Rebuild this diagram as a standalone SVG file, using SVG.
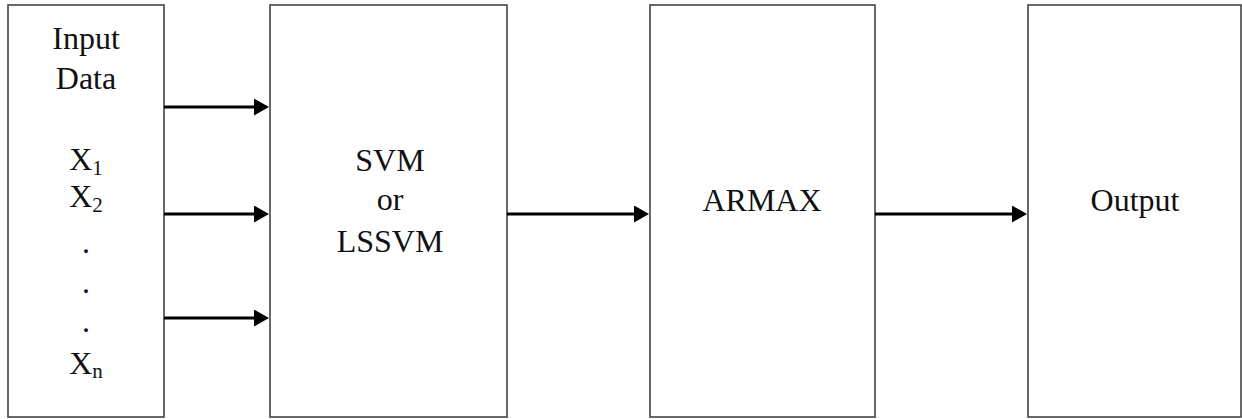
<svg xmlns="http://www.w3.org/2000/svg" width="1242" height="419" viewBox="0 0 1242 419">
  <style>
    .box { fill: #ffffff; stroke: #444444; stroke-width: 1.6; }
    text { font-family: 'Liberation Serif', 'DejaVu Serif', serif; font-size: 32px; fill: #111111; text-anchor: middle; }
    .sub { font-size: 21px; }
    .wire { stroke: #000000; stroke-width: 3; fill: none; }
  </style>
  <defs>
    <marker id="head" markerUnits="userSpaceOnUse" markerWidth="16" markerHeight="17" refX="5" refY="8.5" orient="auto">
      <path d="M0,0 L15,8.5 L0,17 Z" fill="#000000"/>
    </marker>
  </defs>

  <rect width="1242" height="419" fill="#ffffff"/>

  <!-- input block -->
  <g id="input">
    <rect class="box" x="8" y="5" width="156" height="412"/>
    <text x="86" y="49">Input</text>
    <text x="86" y="89">Data</text>
    <text x="86" y="170">X<tspan class="sub" dy="5">1</tspan></text>
    <text x="86" y="207">X<tspan class="sub" dy="5">2</tspan></text>
    <text x="86" y="253">.</text>
    <text x="86" y="293">.</text>
    <text x="86" y="332">.</text>
    <text x="86" y="374">X<tspan class="sub" dy="4">n</tspan></text>
  </g>

  <!-- regression model block -->
  <g id="svm">
    <rect class="box" x="270" y="5" width="237" height="412"/>
    <text x="390" y="171">SVM</text>
    <text x="390" y="210">or</text>
    <text x="390" y="252">LSSVM</text>
  </g>

  <!-- ARMAX block -->
  <g id="armax">
    <rect class="box" x="650" y="5" width="225" height="412"/>
    <text x="762" y="211">ARMAX</text>
  </g>

  <!-- output block -->
  <g id="output">
    <rect class="box" x="1028" y="5" width="213" height="412"/>
    <text x="1135" y="211">Output</text>
  </g>

  <!-- connectors -->
  <g id="connectors">
    <line class="wire" x1="164" y1="107" x2="259" y2="107" marker-end="url(#head)"/>
    <line class="wire" x1="164" y1="214" x2="259" y2="214" marker-end="url(#head)"/>
    <line class="wire" x1="164" y1="318" x2="259" y2="318" marker-end="url(#head)"/>
    <line class="wire" x1="507" y1="214" x2="639" y2="214" marker-end="url(#head)"/>
    <line class="wire" x1="875" y1="214" x2="1017" y2="214" marker-end="url(#head)"/>
  </g>
</svg>
